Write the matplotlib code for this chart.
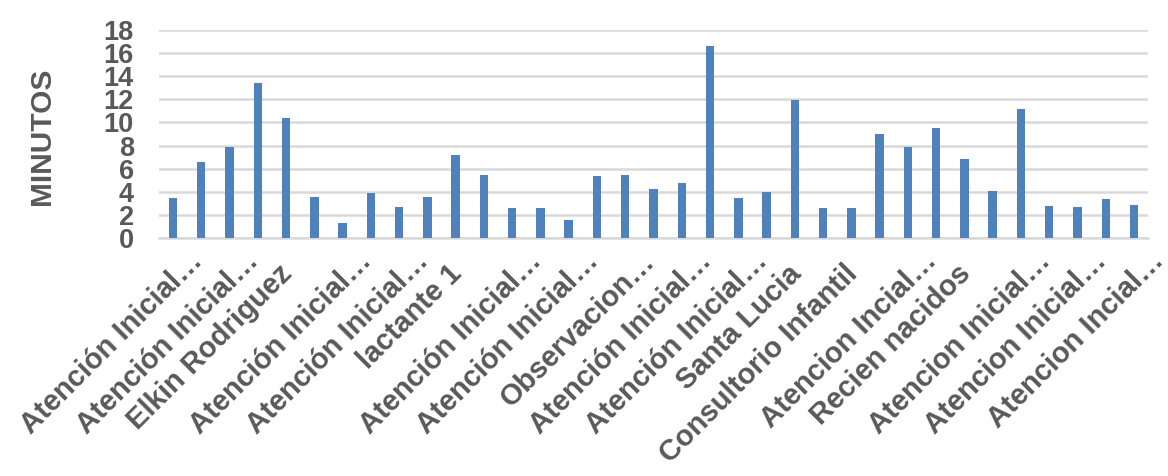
import matplotlib
matplotlib.use("Agg")
import matplotlib.pyplot as plt
import matplotlib.transforms as mtransforms
import numpy as np

# Minutes per service (35 categories, every other one labelled on the axis)
minutos = [3.5, 6.56, 7.9, 13.4, 10.37, 3.58, 1.26, 3.87, 2.69, 3.58,
           7.19, 5.42, 2.61, 2.61, 1.52, 5.4, 5.44, 4.27, 4.73, 16.62,
           3.47, 3.95, 11.95, 2.61, 2.61, 8.97, 7.85, 9.48, 6.82, 4.07,
           11.15, 2.78, 2.64, 3.38, 2.84]
etiquetas = ["Atención Inicial…", "Atención Inicial…", "Elkin Rodriguez",
             "Atención Inicial…", "Atención Inicial…", "lactante 1",
             "Atención Inicial…", "Atención Inicial…", "Observacion…",
             "Atención Inicial…", "Atención Inicial…", "Santa Lucia",
             "Consultorio Infantil", "Atencion Incial…", "Recien nacidos",
             "Atencion Inicial…", "Atencion Inicial…", "Atencion Incial…"]
y_ticks = list(range(0, 20, 2))

plt.rcParams['font.family'] = ['Liberation Sans', 'DejaVu Sans']
gris = '#595959'

fig = plt.figure(figsize=(11.68, 4.76), dpi=100)
ax = fig.add_axes([0.136, 0.5, 0.847, 0.437])

x = np.arange(len(minutos))
ax.bar(x, minutos, width=0.3, color='#4F81BD', zorder=3)

ax.set_xlim(-0.5, len(minutos) - 0.5)
ax.set_ylim(0, 18)
ax.set_yticks(y_ticks)
ax.set_yticklabels([str(v) for v in y_ticks], fontsize=19.5, fontweight='bold', color=gris)
ax.yaxis.grid(True, color='#D9D9D9', linewidth=1.8, zorder=0)
ax.tick_params(axis='both', length=0)
ax.tick_params(axis='y', pad=18)

ax.set_xticks(x[::2])
ax.set_xticklabels(etiquetas, rotation=45, ha='right', rotation_mode='anchor',
                   fontsize=21, fontweight='bold', color=gris)
# truncated labels sit further up-right than the full ones
for lbl in ax.get_xticklabels():
    if lbl.get_text().endswith('…'):
        dx, dy = 0.15, -0.04
    else:
        dx, dy = -0.08, -0.17
    shift = mtransforms.ScaledTranslation(dx, dy, fig.dpi_scale_trans)
    lbl.set_transform(lbl.get_transform() + shift)

for side in ['top', 'right', 'left']:
    ax.spines[side].set_visible(False)
ax.spines['bottom'].set_color('#D9D9D9')
ax.spines['bottom'].set_linewidth(1.8)

ax.set_ylabel('MINUTOS', fontsize=21.5, fontweight='bold', color=gris)
ax.yaxis.set_label_coords(-0.104, 0.49)

fig.savefig('out.png', dpi=100)
